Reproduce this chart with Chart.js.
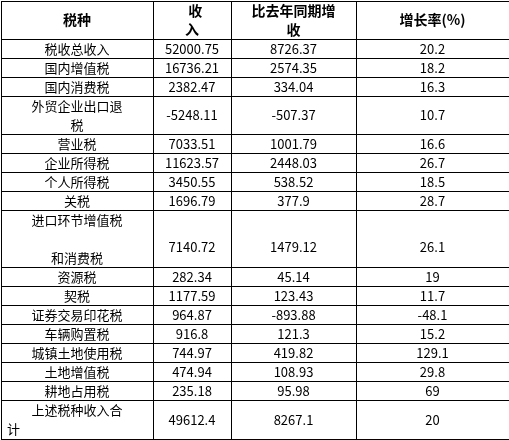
<!DOCTYPE html>
<html><head><meta charset="utf-8">
<script src="https://cdn.jsdelivr.net/npm/chart.js@4"></script>
<style>html,body{margin:0;padding:0;background:#fff}#w{width:509px;height:440px}</style>
</head><body><div id="w"><canvas id="c"></canvas></div>
<script>
const headers = [["税种"],["  收","入"],["比去年同期增","收"],["增长率(%)"]];
const categories = ["税收总收入","国内增值税","国内消费税","外贸企业出口退|税","营业税","企业所得税","个人所得税","关税","进口环节增值税||和消费税","资源税","契税","证券交易印花税","车辆购置税","城镇土地使用税","土地增值税","耕地占用税","上述税种收入合|计"];
const income = ["52000.75","16736.21","2382.47","-5248.11","7033.51","11623.57","3450.55","1696.79","7140.72","282.34","1177.59","964.87","916.8","744.97","474.94","235.18","49612.4"];
const increase = ["8726.37","2574.35","334.04","-507.37","1001.79","2448.03","538.52","377.9","1479.12","45.14","123.43","-893.88","121.3","419.82","108.93","95.98","8267.1"];
const growth = ["20.2","18.2","16.3","10.7","16.6","26.7","18.5","28.7","26.1","19","11.7","-48.1","15.2","129.1","29.8","69","20"];
const rowUnits = categories.map(c => c.split("|").length);
const colEdges = [0,152,230,355,508];
const headUnits = 2;
const bounds = [0, headUnits];
rowUnits.forEach(u => bounds.push(bounds[bounds.length-1]+u));
const total = bounds[bounds.length-1];

const tablePlugin = {
  id:'table',
  afterDraw(chart){
    const {ctx, scales:{x,y}} = chart;
    ctx.save();
    ctx.fillStyle='#000';
    ctx.textBaseline='middle';
    const lh = y.getPixelForValue(1)-y.getPixelForValue(0);
    // header
    ctx.font='bold 14px "Noto Sans CJK SC"';
    headers.forEach((h,i)=>{
      const cx=(x.getPixelForValue(colEdges[i])+x.getPixelForValue(colEdges[i+1]))/2;
      ctx.textAlign='center';
      if(h.length===1){ctx.fillText(h[0],cx,y.getPixelForValue(1));}
      else h.forEach((t,k)=>ctx.fillText(t,cx,y.getPixelForValue(0.5+k)));
    });
    ctx.font='13px "Noto Sans CJK SC"';
    categories.forEach((c,r)=>{
      const top=bounds[r+1], u=rowUnits[r];
      const lines=c.split("|");
      const cx0=(x.getPixelForValue(colEdges[0])+x.getPixelForValue(colEdges[1]))/2;
      ctx.textAlign='center';
      if(lines.length===1) ctx.fillText(lines[0],cx0,y.getPixelForValue(top+0.5));
      else lines.forEach((t,k)=>{ if(t){ 
        if(k===lines.length-1 && r===categories.length-1){ctx.textAlign='left';ctx.fillText(t,x.getPixelForValue(6),y.getPixelForValue(top+k+0.5));ctx.textAlign='center';}
        else ctx.fillText(t,cx0,y.getPixelForValue(top+k+0.5));}});
      const my = u===3 ? y.getPixelForValue(top+1.9) : y.getPixelForValue(top+u/2);
      [income[r],increase[r],growth[r]].forEach((v,i)=>{
        const cx=(x.getPixelForValue(colEdges[i+1])+x.getPixelForValue(colEdges[i+2]))/2;
        ctx.fillText(v,cx,my);
      });
    });
    ctx.restore();
  }
};

new Chart(document.getElementById('c'),{
  type:'scatter',
  data:{datasets:[{data:[]}]},
  options:{
    responsive:true,maintainAspectRatio:false,animation:false,
    layout:{padding:{left:1,right:0,top:1,bottom:1}},
    plugins:{legend:{display:false},tooltip:{enabled:false}},
    scales:{
      x:{type:'linear',min:0,max:508,
        afterBuildTicks:s=>{s.ticks=colEdges.map(v=>({value:v}));},
        ticks:{display:false},grid:{color:'#000',drawTicks:false,lineWidth:1},border:{display:false}},
      y:{type:'linear',min:0,max:total,reverse:true,
        afterBuildTicks:s=>{s.ticks=bounds.map(v=>({value:v}));},
        ticks:{display:false},grid:{color:'#000',drawTicks:false,lineWidth:1},border:{display:false}}
    }
  },
  plugins:[tablePlugin]
});
</script></body></html>
